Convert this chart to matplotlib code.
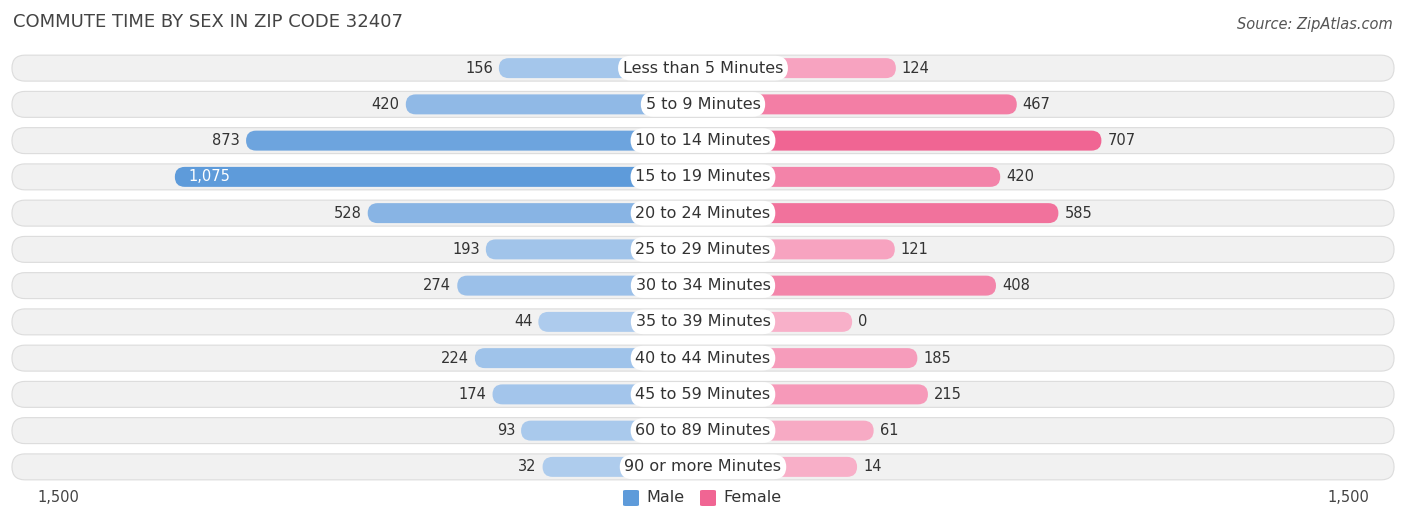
import matplotlib
matplotlib.use("Agg")
import matplotlib.pyplot as plt
from matplotlib.patches import FancyBboxPatch
import numpy as np

CATEGORIES = ["Less than 5 Minutes", "5 to 9 Minutes", "10 to 14 Minutes", "15 to 19 Minutes",
              "20 to 24 Minutes", "25 to 29 Minutes", "30 to 34 Minutes", "35 to 39 Minutes",
              "40 to 44 Minutes", "45 to 59 Minutes", "60 to 89 Minutes", "90 or more Minutes"]
MALE = [156, 420, 873, 1075, 528, 193, 274, 44, 224, 174, 93, 32]
FEMALE = [124, 467, 707, 420, 585, 121, 408, 0, 185, 215, 61, 14]
AXIS_MAX = 1500

OFFSET = 423          # bars start behind the centre label
XPX = 2.836           # data units per pixel (x)
YPX = 1 / 36.3        # data units per pixel (y)
ASPECT = YPX / XPX


def mix(c1, c2, t):
    c1 = np.array(matplotlib.colors.to_rgb(c1))
    c2 = np.array(matplotlib.colors.to_rgb(c2))
    return tuple(c1 + (c2 - c1) * t)


def rbox(ax, x0, x1, y, h, fc, ec="none", lw=0, z=2):
    r = h / 2 / ASPECT
    p = FancyBboxPatch((x0 + r, y - h / 2 + h / 2 * 0), max(x1 - x0 - 2 * r, 0.01), 0.0001,
                       boxstyle=f"round,pad={r}", mutation_aspect=ASPECT,
                       fc=fc, ec=ec, lw=lw, zorder=z, clip_on=False)
    p.set_y(y)
    ax.add_patch(p)


fig = plt.figure(figsize=(14.06, 5.23), dpi=100)
ax = fig.add_axes([25 / 1406, 1 - 485 / 523, 1356 / 1406, 435 / 523])
lim = AXIS_MAX + OFFSET
ax.set_xlim(-lim, lim)
ax.set_ylim(len(CATEGORIES) - 0.5, -0.5)
ax.axis("off")

mmax = max(MALE)
fmax = max(FEMALE)
for i, (cat, m, f) in enumerate(zip(CATEGORIES, MALE, FEMALE)):
    rbox(ax, -1960, 1960, i, 26 * YPX, "#f1f1f1", ec="#dcdcdc", lw=0.8, z=1)
    mc = mix("#b0cdee", "#5e9bda", m / mmax)
    fc = mix("#f8b0c9", "#f06593", f / fmax)
    rbox(ax, -(OFFSET + m), 0, i, 20 * YPX, mc)
    rbox(ax, 0, OFFSET + f, i, 20 * YPX, fc)
    ax.text(0, i, cat, ha="center", va="center", fontsize=11.5, color="#333333", zorder=4,
            bbox=dict(boxstyle="round,pad=0.3,rounding_size=0.8", fc="white", ec="none"))
    if m > 1000:
        ax.text(-(OFFSET + m) + 14 * XPX, i, f"{m:,}", ha="left", va="center",
                fontsize=10.5, color="white", zorder=4)
    else:
        ax.text(-(OFFSET + m) - 6 * XPX, i, f"{m:,}", ha="right", va="center",
                fontsize=10.5, color="#333333", zorder=4)
    ax.text(OFFSET + f + 6 * XPX, i, f"{f:,}", ha="left", va="center",
            fontsize=10.5, color="#333333", zorder=4)

fig.text(13 / 1406, 1 - 22 / 523, "COMMUTE TIME BY SEX IN ZIP CODE 32407", fontsize=13,
         color="#444444", va="center")
fig.text(1393 / 1406, 1 - 24 / 523, "Source: ZipAtlas.com", fontsize=10.5, color="#555555",
         style="italic", ha="right", va="center")
fig.text(37 / 1406, 1 - 498 / 523, f"{AXIS_MAX:,}", fontsize=10.5, color="#444444", va="center")
fig.text(1369 / 1406, 1 - 498 / 523, f"{AXIS_MAX:,}", fontsize=10.5, color="#444444",
         va="center", ha="right")
for x, col, lab in [(623, "#5e9bda", "Male"), (700, "#f06593", "Female")]:
    fig.patches.append(matplotlib.patches.FancyBboxPatch(
        (x / 1406, 1 - 506 / 523), 16 / 1406, 16 / 523, boxstyle="round,pad=0,rounding_size=0.002",
        transform=fig.transFigure, fc=col, ec="none"))
    fig.text((x + 23) / 1406, 1 - 498 / 523, lab, fontsize=11.5, color="#333333", va="center")

fig.savefig("out.png", dpi=100)
